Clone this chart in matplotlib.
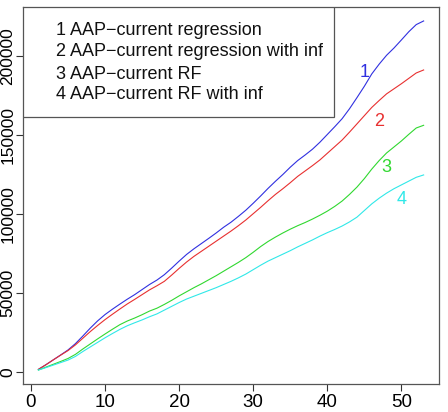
import numpy as np
import matplotlib
matplotlib.use('agg')
import matplotlib.pyplot as plt
from matplotlib.patches import Rectangle

plt.rcParams['font.family'] = ['Liberation Sans', 'DejaVu Sans']
plt.rcParams['font.size'] = 13.5

# cumulative values per step
steps = np.arange(1, 54)
reg = [1.9, 4.8, 7.9, 11.0, 14.2, 18.2, 23.0, 28.0, 32.6, 36.6,
       40.0, 43.2, 46.3, 49.2, 52.4, 55.6, 58.4, 61.8, 66.0, 70.4,
       74.6, 78.2, 81.5, 84.8, 88.2, 91.8, 95.0, 98.7, 102.6, 107.0,
       111.6, 116.4, 120.9, 125.2, 129.8, 134.0, 137.5, 141.2, 145.6, 150.5,
       155.4, 160.5, 166.8, 173.8, 181.0, 188.8, 195.0, 200.6, 205.2, 210.3,
       215.5, 220.0, 222.3]
reg_inf = [1.9, 4.8, 7.9, 10.9, 13.8, 17.4, 21.6, 25.8, 29.7, 33.4,
           36.8, 40.1, 43.3, 46.2, 49.2, 52.2, 54.8, 57.6, 61.6, 65.8,
           69.8, 73.4, 76.6, 79.8, 83.0, 86.2, 89.4, 92.8, 96.4, 100.4,
           104.4, 108.6, 112.6, 116.2, 120.0, 124.0, 127.4, 130.8, 134.4, 138.6,
           142.8, 147.0, 152.0, 157.2, 162.4, 167.6, 172.0, 176.2, 179.4, 182.6,
           186.0, 189.4, 191.3]
rf = [1.5, 3.3, 5.1, 6.9, 8.8, 11.4, 14.8, 18.0, 21.2, 24.3,
      27.3, 30.2, 32.5, 34.4, 36.5, 38.8, 40.6, 43.0, 45.6, 48.4,
      51.0, 53.6, 56.0, 58.6, 61.2, 64.0, 66.8, 69.6, 72.6, 76.0,
      79.6, 82.8, 85.6, 88.2, 90.6, 92.8, 94.8, 97.0, 99.4, 102.0,
      105.0, 108.4, 112.6, 117.2, 122.6, 128.6, 134.0, 138.8, 142.6, 146.4,
      150.6, 154.6, 156.3]
rf_inf = [1.5, 3.0, 4.6, 6.2, 7.8, 10.1, 13.2, 16.1, 19.0, 21.9,
          24.6, 27.2, 29.5, 31.4, 33.2, 35.2, 37.0, 39.4, 41.8, 44.2,
          46.4, 48.2, 50.0, 51.8, 53.6, 55.6, 57.6, 59.8, 62.2, 65.0,
          67.8, 70.4, 72.6, 74.8, 77.0, 79.4, 81.6, 83.8, 86.2, 88.4,
          90.4, 92.6, 95.2, 98.2, 102.4, 106.6, 110.2, 113.4, 116.2, 118.6,
          121.0, 123.4, 124.9]

labels = ['1 AAP\u2212current regression',
          '2 AAP\u2212current regression with inf',
          '3 AAP\u2212current RF',
          '4 AAP\u2212current RF with inf']
colors = ['#3030e0', '#e83030', '#30d830', '#30e8e8']
# where the number tags sit next to each curve
tag_x = [45.0, 47.0, 48.0, 50.0]
tag_y = [190.0, 159.0, 129.5, 109.5]

series = [reg, reg_inf, rf, rf_inf]

fig = plt.figure(figsize=(4.48, 4.12), dpi=100)
ax = fig.add_axes([0.0513, 0.068, 0.9287, 0.915])

for s, c in zip(series, colors):
    ax.plot(steps, np.array(s) * 1000, color=c, lw=0.8)

for i, c in enumerate(colors):
    ax.text(tag_x[i], tag_y[i] * 1000, str(i + 1), color=c,
            ha='center', va='center', fontsize=13)

# R style axis limits (4% padding)
ymin = 1500.0
ymax = 222300.0
r = ymax - ymin
ax.set_ylim(ymin - 0.04 * r, ymax + 0.04 * r)
ax.set_xlim(1 - 0.04 * 52, 53 + 0.04 * 52)

ax.set_xticks([0, 10, 20, 30, 40, 50])
ax.set_yticks([0, 50000, 100000, 150000, 200000])
ax.set_yticklabels(['0', '50000', '100000', '150000', '200000'],
                   rotation=90, va='center')
ax.tick_params(axis='both', length=5, width=0.8, color='#333333')
ax.tick_params(axis='y', pad=0.5, labelsize=12.5)
ax.tick_params(axis='x', pad=2.5)

for sp in ax.spines.values():
    sp.set_color('#555555')
    sp.set_linewidth(0.9)

# legend box in the upper left corner
ax.add_patch(Rectangle((0, 1 - 0.292), 0.748, 0.292, transform=ax.transAxes,
                       facecolor='white', edgecolor='#555555', lw=0.9,
                       zorder=5))
line_y = [0.937, 0.881, 0.822, 0.767]
for lab, yy in zip(labels, line_y):
    ax.text(0.079, yy, lab, transform=ax.transAxes, ha='left', va='center',
            fontsize=13, color='#111111', zorder=6)

fig.savefig('out.png', dpi=100)
